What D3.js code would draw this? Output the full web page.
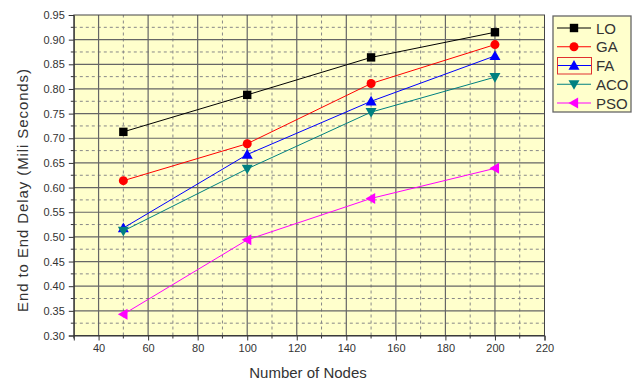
<!DOCTYPE html>
<html>
<head>
<style>
  body { margin: 0; background: #fff; }
  text { font-family: "Liberation Sans", Arial, sans-serif; fill: #333; }
</style>
</head>
<body>
<div id="chart"></div>
<script src="https://cdnjs.cloudflare.com/ajax/libs/d3/7.8.5/d3.min.js"></script>
<script>
// data
var nodes = [50, 100, 150, 200];
var seriesNames = ["LO", "GA", "FA", "ACO", "PSO"];
var lo  = [0.713, 0.788, 0.864, 0.915];
var ga  = [0.614, 0.689, 0.811, 0.890];
var fa  = [0.518, 0.667, 0.775, 0.867];
var aco = [0.512, 0.638, 0.753, 0.824];
var pso = [0.343, 0.494, 0.578, 0.639];
var xTicks = [40, 60, 80, 100, 120, 140, 160, 180, 200, 220];
var yTicks = [0.30, 0.35, 0.40, 0.45, 0.50, 0.55, 0.60, 0.65, 0.70, 0.75, 0.80, 0.85, 0.90, 0.95];

var colors = ["#000000", "#ff0000", "#0000ff", "#008080", "#ff00ff"];
var symbols = ["square", "circle", "up", "down", "left"];
var allValues = [lo, ga, fa, aco, pso];

var width = 640, height = 382;
var svg = d3.select("#chart").append("svg")
    .attr("width", width).attr("height", height);

var x = d3.scaleLinear().domain([30, 220]).range([73.8, 544.5]);
var y = d3.scaleLinear().domain([0.30, 0.95]).range([335.5, 15]);

// plot background
svg.append("rect")
    .attr("x", x(30)).attr("y", y(0.95))
    .attr("width", x(220) - x(30)).attr("height", y(0.30) - y(0.95))
    .attr("fill", "#ffffcc");

// minor dashed grid
var xMinor = d3.range(50, 220, 20);
var yMinor = d3.range(0.325, 0.95, 0.05);
svg.selectAll(".xminor").data(xMinor).enter().append("line")
    .attr("x1", d => x(d)).attr("x2", d => x(d))
    .attr("y1", y(0.30)).attr("y2", y(0.95))
    .attr("stroke", "#888").attr("stroke-dasharray", "3,3");
svg.selectAll(".yminor").data(yMinor).enter().append("line")
    .attr("x1", x(30)).attr("x2", x(220))
    .attr("y1", d => y(d)).attr("y2", d => y(d))
    .attr("stroke", "#888").attr("stroke-dasharray", "3,3");

// major grid
svg.selectAll(".xmajor").data(xTicks.slice(0, -1)).enter().append("line")
    .attr("x1", d => x(d)).attr("x2", d => x(d))
    .attr("y1", y(0.30)).attr("y2", y(0.95))
    .attr("stroke", "#666").attr("stroke-width", 1.2);
svg.selectAll(".ymajor").data(yTicks.slice(1, -1)).enter().append("line")
    .attr("x1", x(30)).attr("x2", x(220))
    .attr("y1", d => y(d)).attr("y2", d => y(d))
    .attr("stroke", "#666").attr("stroke-width", 1.2);

// frame
svg.append("rect")
    .attr("x", x(30)).attr("y", y(0.95))
    .attr("width", x(220) - x(30)).attr("height", y(0.30) - y(0.95))
    .attr("fill", "none").attr("stroke", "#444").attr("stroke-width", 1);

// axes
var xAxis = d3.axisBottom(x).tickValues(xTicks).tickSize(5).tickPadding(4)
    .tickFormat(d3.format("d"));
var gx = svg.append("g").attr("transform", "translate(0," + y(0.30) + ")").call(xAxis);
gx.selectAll(".tick text").attr("font-size", 11).attr("fill", "#333");
gx.select(".domain").attr("stroke", "#333");
gx.selectAll(".tick line").attr("stroke", "#333");
gx.selectAll(".mtick").data(d3.range(30, 220, 10).filter(d => d % 20 != 0)).enter().append("line")
    .attr("x1", d => x(d)).attr("x2", d => x(d)).attr("y1", 0).attr("y2", 3)
    .attr("stroke", "#333");

var yAxis = d3.axisLeft(y).tickValues(yTicks).tickSize(5).tickPadding(4)
    .tickFormat(d3.format(".2f"));
var gy = svg.append("g").attr("transform", "translate(" + x(30) + ",0)").call(yAxis);
gy.selectAll(".tick text").attr("font-size", 11).attr("fill", "#333");
gy.select(".domain").attr("stroke", "#333");
gy.selectAll(".tick line").attr("stroke", "#333");
gy.selectAll(".mtick").data(yMinor).enter().append("line")
    .attr("x1", 0).attr("x2", -3).attr("y1", d => y(d)).attr("y2", d => y(d))
    .attr("stroke", "#333");

// axis titles
svg.append("text")
    .attr("x", 308).attr("y", 378)
    .attr("text-anchor", "middle").attr("font-size", 15)
    .text("Number of Nodes");
svg.append("text")
    .attr("transform", "translate(28,190) rotate(-90)")
    .attr("text-anchor", "middle").attr("font-size", 15)
    .attr("letter-spacing", 0.9)
    .text("End to End Delay (Mili Seconds)");

// marker drawing
function marker(sel, type, color) {
    var s = 4.2;
    if (type == "square") {
        sel.append("rect").attr("x", -s).attr("y", -s).attr("width", 2 * s).attr("height", 2 * s).attr("fill", color);
    } else if (type == "circle") {
        sel.append("circle").attr("r", s + 0.3).attr("fill", color);
    } else {
        var pts;
        var r = 5.5;
        if (type == "up") pts = [[0, -r], [r, r * 0.75], [-r, r * 0.75]];
        if (type == "down") pts = [[0, r], [r, -r * 0.75], [-r, -r * 0.75]];
        if (type == "left") pts = [[-r, 0], [r * 0.75, -r], [r * 0.75, r]];
        sel.append("polygon").attr("points", pts.map(p => p.join(",")).join(" ")).attr("fill", color);
    }
}

var line = d3.line().x((d, i) => x(nodes[i])).y(d => y(d));

allValues.forEach(function (vals, k) {
    svg.append("path").datum(vals)
        .attr("d", line).attr("fill", "none")
        .attr("stroke", colors[k]).attr("stroke-width", 1);
    vals.forEach(function (v, i) {
        var g = svg.append("g").attr("transform", "translate(" + x(nodes[i]) + "," + y(v) + ")");
        marker(g, symbols[k], colors[k]);
    });
});

// legend
var leg = svg.append("g");
leg.append("rect")
    .attr("x", 553).attr("y", 16).attr("width", 78).attr("height", 96)
    .attr("fill", "#ffffcc").attr("stroke", "#666").attr("stroke-width", 1.3);
seriesNames.forEach(function (name, k) {
    var ry = 28 + k * 18.75;
    leg.append("line").attr("x1", 557).attr("x2", 591).attr("y1", ry).attr("y2", ry)
        .attr("stroke", colors[k]).attr("stroke-width", 1);
    var g = leg.append("g").attr("transform", "translate(574," + ry + ")");
    marker(g, symbols[k], colors[k]);
    leg.append("text").attr("x", 596).attr("y", ry + 5.5)
        .attr("font-size", 15).attr("fill", "#222").text(name);
});
// selection box around FA entry, as in the picture
leg.append("rect")
    .attr("x", 557.5).attr("y", 57.5).attr("width", 34).attr("height", 16.5)
    .attr("fill", "none").attr("stroke", "#e03030").attr("stroke-width", 1);
</script>
</body>
</html>
